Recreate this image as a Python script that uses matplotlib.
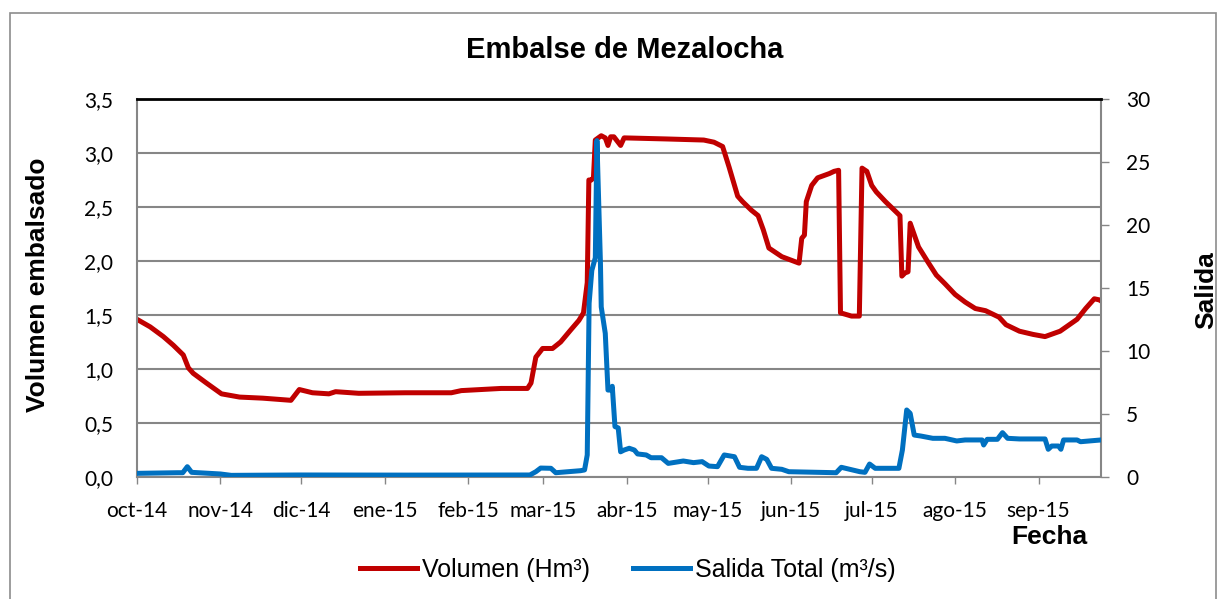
import matplotlib
matplotlib.use("Agg")
import matplotlib.pyplot as plt
import matplotlib.dates as mdates
from matplotlib.patches import Rectangle
import numpy as np

# días desde el 1-oct-2014
START = np.datetime64("2014-10-01")

vol_day = [0, 4.9, 9.8, 13.5, 17.2, 19.1, 20.9, 25.8, 31.4, 38.1, 46.7, 57.2, 60.3, 65.2,
           71.3, 73.8, 82.4, 99.6, 116.8, 120.5, 135.3, 145.1, 146.4, 148.2, 150.7, 154.4,
           157.4, 161.1, 164.2, 165.9, 167.3, 167.9, 168.8, 169.6, 170.3, 172.5, 174, 175,
           176, 177.2, 179.7, 181, 196.8, 210.6, 214.4, 217.6, 220, 223.2, 225, 228.3, 230.8,
           232.7, 234.8, 239.6, 246, 247, 248, 248.7, 250.7, 252.9, 257.3, 259, 260.7, 261.4,
           265.5, 268.4, 269.4, 271.2, 273, 274.7, 278.1, 280.6, 283.5, 284.2, 285.4, 286.5,
           287.3, 290.4, 293.9, 297, 300.2, 304, 307.7, 311.5, 315.3, 320.3, 322.9, 327.9,
           333, 337.4, 343, 349.3, 352.5, 355.7, 357.6, 358.2]
vol_val = [1.46, 1.39, 1.30, 1.22, 1.13, 1.01, 0.96, 0.87, 0.77, 0.74, 0.73, 0.71, 0.81, 0.78,
           0.77, 0.79, 0.775, 0.78, 0.78, 0.80, 0.82, 0.82, 0.87, 1.11, 1.19, 1.19,
           1.25, 1.36, 1.45, 1.52, 1.80, 2.75, 2.75, 2.77, 3.12, 3.16, 3.14, 3.07,
           3.15, 3.15, 3.07, 3.14, 3.13, 3.12, 3.10, 3.06, 2.87, 2.60, 2.55, 2.47, 2.42,
           2.29, 2.12, 2.04, 1.98, 2.21, 2.24, 2.55, 2.70, 2.77, 2.81, 2.83, 2.84, 1.52,
           1.49, 1.49, 2.86, 2.83, 2.70, 2.64, 2.55, 2.49, 2.42, 1.86, 1.89, 1.90,
           2.35, 2.13, 1.99, 1.87, 1.79, 1.69, 1.62, 1.56, 1.54, 1.48, 1.41, 1.35,
           1.32, 1.30, 1.35, 1.46, 1.56, 1.65, 1.64, 1.63]

sal_day = [0, 15, 17, 18.7, 20.3, 31, 35, 60, 100, 146, 148.2, 150, 153.8, 155.6, 164.8,
           166.3, 167.3, 168, 169, 170.3, 170.9, 172.2, 172.5, 174, 175, 176, 176.6, 177.6,
           178.8, 179.7, 181, 182.9, 184.8, 186, 189.2, 191, 194.9, 197.4, 203, 206.8, 210,
           212.5, 215.7, 218.2, 222, 223.9, 227, 230.2, 232.1, 234, 235.8, 239.6, 242.2,
           259.8, 261.7, 268.6, 270.5, 272.2, 274.3, 283.1, 284.4, 286, 287.3, 288.8, 291.3,
           295.7, 300.2, 304.6, 307.7, 314, 314.6, 315.9, 319.7, 321.6, 323.5, 327.9, 337.4,
           338.6, 339.9, 342.4, 343.3, 344.3, 349.3, 350.6, 358.2]
sal_val = [0.29, 0.34, 0.34, 0.82, 0.37, 0.24, 0.13, 0.16, 0.15, 0.16, 0.42, 0.71, 0.69, 0.34, 0.50,
           0.56, 1.75, 13.8, 16.4, 17.4, 26.7, 17.0, 13.5, 11.4, 6.9, 6.9, 7.2, 4.0,
           3.9, 2.0, 2.14, 2.28, 2.14, 1.83, 1.75, 1.53, 1.53, 1.08, 1.27, 1.14, 1.22,
           0.87, 0.82, 1.75, 1.61, 0.77, 0.69, 0.69, 1.61, 1.40, 0.69, 0.61, 0.42,
           0.34, 0.77, 0.42, 0.37, 1.03, 0.69, 0.69, 2.14, 5.32, 5.05, 3.33, 3.25,
           3.07, 3.07, 2.86, 2.94, 2.94, 2.54, 2.99, 2.99, 3.52, 3.07, 3.02, 3.02,
           2.20, 2.46, 2.46, 2.20, 2.94, 2.94, 2.80, 2.94]

month_ticks = ["2014-10-01", "2014-11-01", "2014-12-01", "2015-01-01", "2015-02-01", "2015-03-01",
               "2015-04-01", "2015-05-01", "2015-06-01", "2015-07-01", "2015-08-01", "2015-09-01"]
month_labels = ["oct-14", "nov-14", "dic-14", "ene-15", "feb-15", "mar-15",
                "abr-15", "may-15", "jun-15", "jul-15", "ago-15", "sep-15"]

base = mdates.date2num(START)
vx = base + np.array(vol_day)
sx = base + np.array(sal_day)

RED = "#C00000"
BLUE = "#0070C0"
GRID = "#868686"
BOLD = dict(fontweight="bold", family="Liberation Sans")

fig = plt.figure(figsize=(12.26, 5.99), dpi=100)
fig.patches.append(Rectangle((10 / 1226, -0.01), 1206 / 1226, 1 - 13 / 599 + 0.01,
                             transform=fig.transFigure, fill=False, edgecolor="#8c8c8c", lw=1.2))

ax = fig.add_axes([137 / 1226, 122 / 599, 964 / 1226, 378 / 599])
ax2 = ax.twinx()

l1, = ax.plot(vx, vol_val, color=RED, lw=3.6, solid_joinstyle="round", zorder=3)
l2, = ax2.plot(sx, sal_val, color=BLUE, lw=3.6, solid_joinstyle="round", zorder=3)

ax.set_xlim(base, base + 358.2)
ax.set_ylim(0, 3.5)
ax2.set_ylim(0, 30)

yt = np.arange(0, 3.51, 0.5)
ax.set_yticks(yt)
ax.set_yticklabels([f"{v:.1f}".replace(".", ",") for v in yt])
ax2.set_yticks(np.arange(0, 31, 5))

ax.set_xticks([mdates.date2num(np.datetime64(d)) for d in month_ticks])
ax.set_xticklabels(month_labels)

ax.grid(axis="y", color=GRID, lw=1.5)
ax.set_axisbelow(True)

for lab in ax.get_xticklabels() + ax.get_yticklabels() + ax2.get_yticklabels():
    lab.set_fontfamily("Lato")
    lab.set_fontsize(15)

ax.tick_params(axis="y", length=0, pad=17)
ax.tick_params(axis="x", length=5, width=1, color=GRID, pad=12)
ax2.tick_params(axis="y", length=6, width=1, color=GRID, pad=12)

for sp in ["left", "bottom", "right"]:
    ax2.spines[sp].set_color(GRID)
    ax2.spines[sp].set_linewidth(1.5)
ax2.spines["top"].set_color("black")
ax2.spines["top"].set_linewidth(2)
for sp in ax.spines.values():
    sp.set_visible(False)

fig.text(38 / 1226, 1 - 285 / 599, "Volumen embalsado", fontsize=19, rotation=90,
         ha="center", va="center", **BOLD)
fig.text(1206 / 1226, 1 - 290 / 599, "Salida", fontsize=19, rotation=90,
         ha="center", va="center", **BOLD)
fig.text(1049 / 1226, 1 - 537 / 599, "Fecha", fontsize=19, ha="center", va="center", **BOLD)
fig.text(625 / 1226, 1 - 50 / 599, "Embalse de Mezalocha", fontsize=21,
         ha="center", va="center", **BOLD)

fig.legend([l1, l2], ["Volumen (Hm³)", "Salida Total (m³/s)"], loc="center",
           bbox_to_anchor=(628 / 1226, 1 - 570 / 599), ncol=2, frameon=False,
           prop={"family": "Liberation Sans", "size": 18}, handlelength=2.3,
           handletextpad=0.2, columnspacing=1.7)

fig.savefig("out.png", dpi=100)
